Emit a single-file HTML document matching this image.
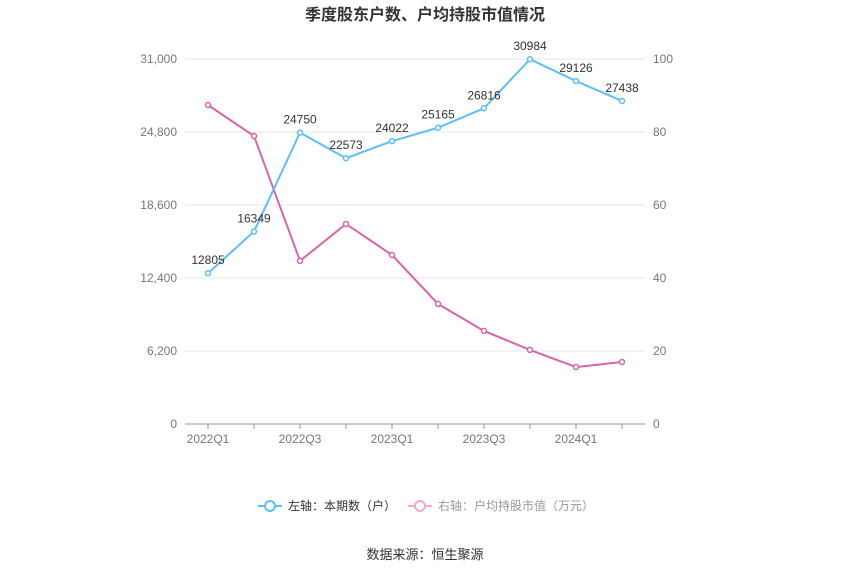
<!DOCTYPE html>
<html><head><meta charset="utf-8"><style>
body{margin:0;background:#fff;font-family:"Liberation Sans","Noto Sans CJK SC",sans-serif}
svg text{font-family:"Liberation Sans","Noto Sans CJK SC",sans-serif}
</style></head><body>
<svg id="c" width="850" height="575">
<text x="425" y="20" text-anchor="middle" font-size="16" font-weight="bold" fill="#333">季度股东户数、户均持股市值情况</text>
<g id="grid"></g><g id="axes"></g><g id="series"></g>
<g>
<g>
<line x1="258" y1="506" x2="282" y2="506" stroke="#5bc0f8" stroke-width="2"/>
<circle cx="270" cy="506" r="5" fill="#fff" stroke="#5bc0f8" stroke-width="2"/>
<text x="288" y="510" font-size="12" fill="#333">左轴：本期数（户）</text></g>
<g>
<line x1="408" y1="506" x2="432" y2="506" stroke="#f0a8d0" stroke-width="2"/>
<circle cx="420" cy="506" r="5" fill="#fff" stroke="#f0a8d0" stroke-width="2"/>
<text x="438" y="510" font-size="12" fill="#999">右轴：户均持股市值（万元）</text></g>
</g>
<text x="425" y="559" text-anchor="middle" font-size="13" fill="#333">数据来源：恒生聚源</text>
</svg>
<script>
const categories=["2022Q1","2022Q2","2022Q3","2022Q4","2023Q1","2023Q2","2023Q3","2023Q4","2024Q1","2024Q2"];
const holders=[12805,16349,24750,22573,24022,25165,26816,30984,29126,27438];
const avgValue=[87.4,78.9,44.7,54.8,46.3,32.9,25.5,20.3,15.6,17.0];
const leftTicks=[0,6200,12400,18600,24800,31000];
const rightTicks=[0,20,40,60,80,100];
const L=185,R=645,T=59,B=424;
const NS="http://www.w3.org/2000/svg";
const x=i=>L+(R-L)/categories.length*(i+0.5);
const yl=v=>B-(v/31000)*(B-T);
const yr=v=>B-(v/100)*(B-T);
function mk(p,tag,a){const e=document.createElementNS(NS,tag);for(const k in a)e.setAttribute(k,a[k]);document.getElementById(p).appendChild(e);return e;}
leftTicks.forEach((v,i)=>{
 const g=mk("grid","line",{x1:L,x2:R,y1:yl(v),y2:yl(v),stroke:i?"#e3e7ef":"#999"});
 
 
 const t=mk("axes","text",{x:177,y:yl(v)+4,"text-anchor":"end","font-size":12,fill:"#777"});
 t.textContent=v.toLocaleString("en-US");
 
 
});
rightTicks.forEach(v=>{
 const t=mk("axes","text",{x:653,y:yr(v)+4,"font-size":12,fill:"#777"});
 t.textContent=v;
 
 
});
categories.forEach((c,i)=>{
 const tk=mk("axes","line",{x1:x(i),x2:x(i),y1:B,y2:B+5,stroke:"#999"});
 
 
 if(i%2===0){const t=mk("axes","text",{x:x(i),y:B+19,"text-anchor":"middle","font-size":12,fill:"#777"});
 t.textContent=c;
 
 }
});
function series(vals,yf,color,name,labels){
 const p=mk("series","polyline",{points:vals.map((v,i)=>x(i)+","+yf(v)).join(" "),fill:"none",stroke:color,"stroke-width":2});
 
 
 vals.forEach((v,i)=>{
  const c=mk("series","circle",{cx:x(i),cy:yf(v),r:2.5,fill:"#fff",stroke:color,"stroke-width":1.5});
  
  
  if(labels){const t=mk("series","text",{x:x(i),y:yf(v)-9,"text-anchor":"middle","font-size":12,fill:"#333"});
  t.textContent=v;
  
  }
 });
}
series(avgValue,yr,"#d865a8","avg-value",false);
series(holders,yl,"#5bc0f8","holders",true);
</script>
</body></html>
